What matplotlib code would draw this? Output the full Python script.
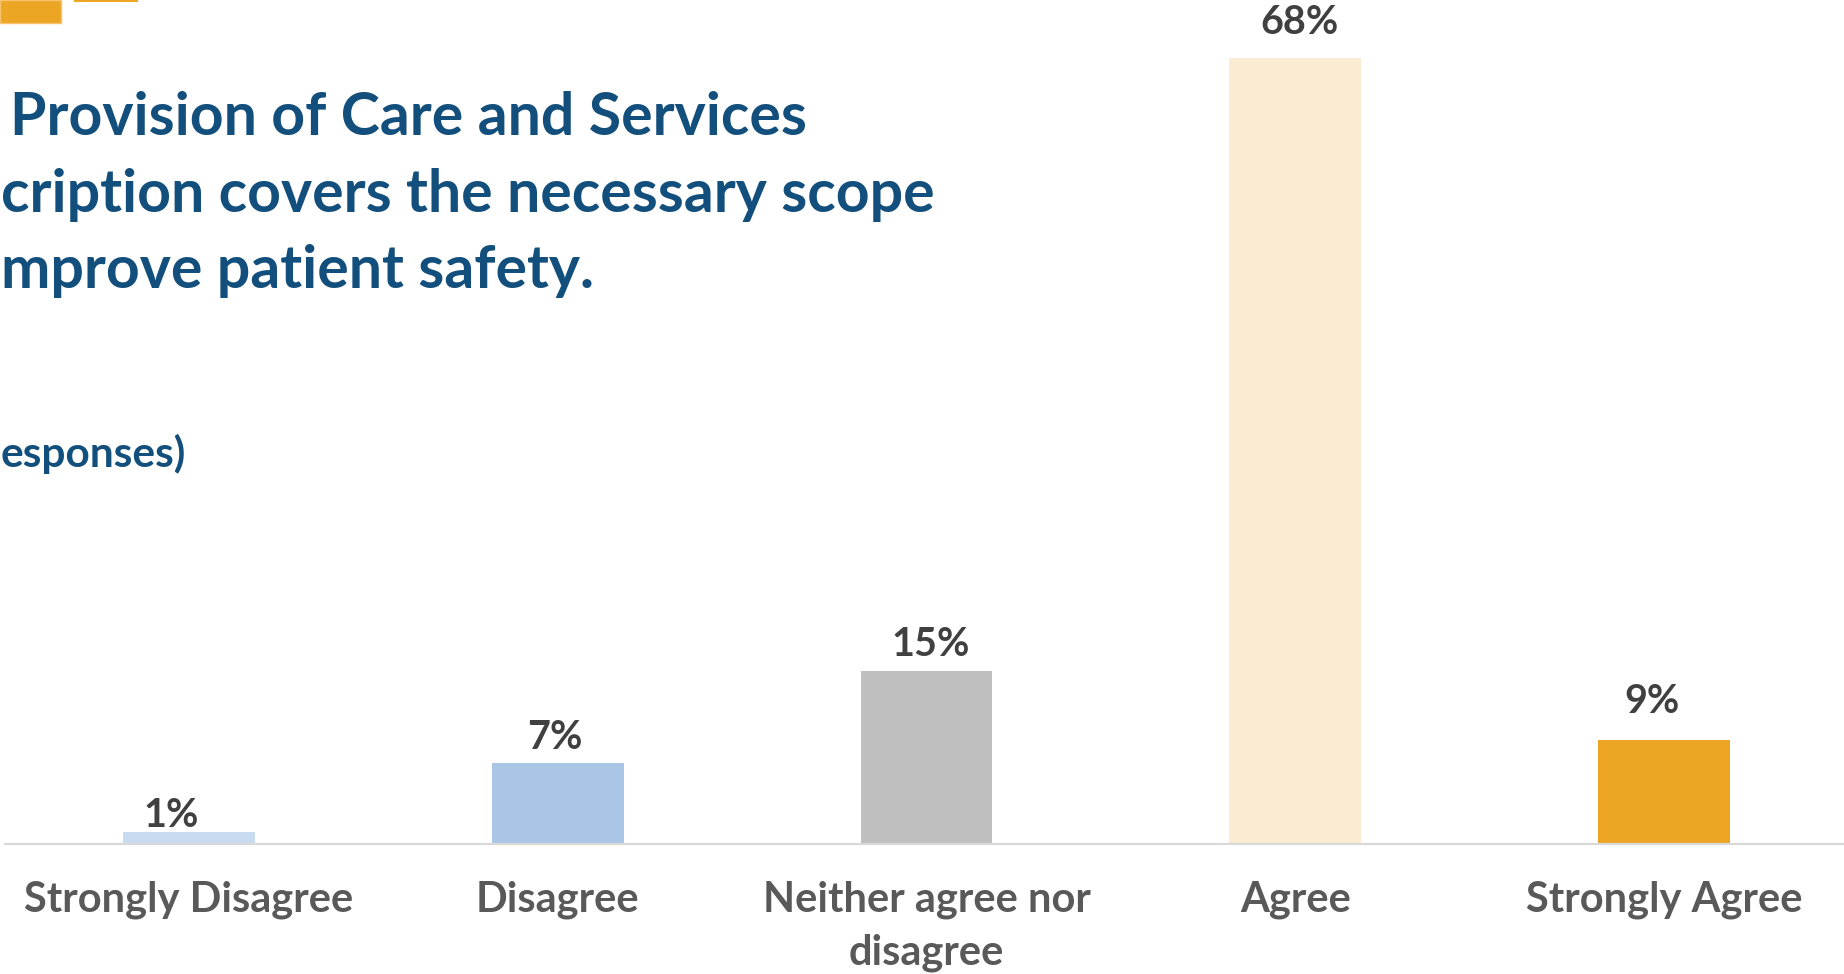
import matplotlib
matplotlib.use("Agg")
import matplotlib.pyplot as plt
from matplotlib.patches import Rectangle

categories = ["Strongly Disagree", "Disagree", "Neither agree nor\ndisagree", "Agree", "Strongly Agree"]
values = [1, 7, 15, 68, 9]
value_labels = ["1%", "7%", "15%", "68%", "9%"]
bar_colors = ["#C9DBF1", "#A9C6E7", "#BFBFBF", "#FAEBD3", "#EDA524"]
label_offsets_px = [(-18, 5), (-3, 14), (4, 15), (4, 24), (-12, 27)]

title_lines = ["Provision of Care and Services",
               "cription covers the necessary scope",
               "mprove patient safety."]
subtitle = "esponses)"

W, H = 1844, 974
plt.rcParams['font.family'] = ['Lato', 'DejaVu Sans']
fig = plt.figure(figsize=(W / 100, H / 100), dpi=100)

ax = fig.add_axes([4.5 / W, (H - 844) / H, 1844 / W, 844 / H])
x = list(range(len(categories)))
ax.bar(x, values, width=0.357, color=bar_colors, zorder=2)
ax.set_xlim(-0.5, 4.5)
ax.set_ylim(0, 844 / 11.56)
for s in ["top", "right", "left"]:
    ax.spines[s].set_visible(False)
ax.spines["bottom"].set_color("#D9D9D9")
ax.spines["bottom"].set_linewidth(1.6)
ax.set_yticks([])
ax.set_xticks(x)
ax.set_xticklabels(categories, fontsize=30, fontweight="bold", color="#595959",
                   linespacing=1.47)
ax.tick_params(axis="x", length=0, pad=26)

for xi, v, lab, (dx, dy) in zip(x, values, value_labels, label_offsets_px):
    ax.annotate(lab, (xi, v), xytext=(dx, dy), textcoords="offset pixels",
                ha="center", va="baseline", fontsize=28.5, fontweight="bold",
                color="#404040")

# title block
title_color = "#134F7C"
tsize = 42.5
fig.text(807 / W, 1 - 135 / H, title_lines[0], ha="right", va="baseline",
         fontsize=tsize, fontweight="bold", color=title_color)
fig.text(1 / W, 1 - 212 / H, title_lines[1], ha="left", va="baseline",
         fontsize=tsize, fontweight="bold", color=title_color)
fig.text(1 / W, 1 - 288 / H, title_lines[2], ha="left", va="baseline",
         fontsize=tsize, fontweight="bold", color=title_color)
fig.text(1 / W, 1 - 467 / H, subtitle, ha="left", va="baseline",
         fontsize=30.5, fontweight="bold", color=title_color)

# decorative orange blocks at top left
fig.patches.append(Rectangle((0, 1 - 23 / H), 61 / W, 23 / H, transform=fig.transFigure,
                             facecolor="#EDA524", edgecolor="#F6C56B", linewidth=1))
fig.patches.append(Rectangle((74 / W, 1 - 2 / H), 64 / W, 2 / H, transform=fig.transFigure,
                             facecolor="#EDA524", edgecolor="none"))

fig.savefig("out.png", dpi=100)
